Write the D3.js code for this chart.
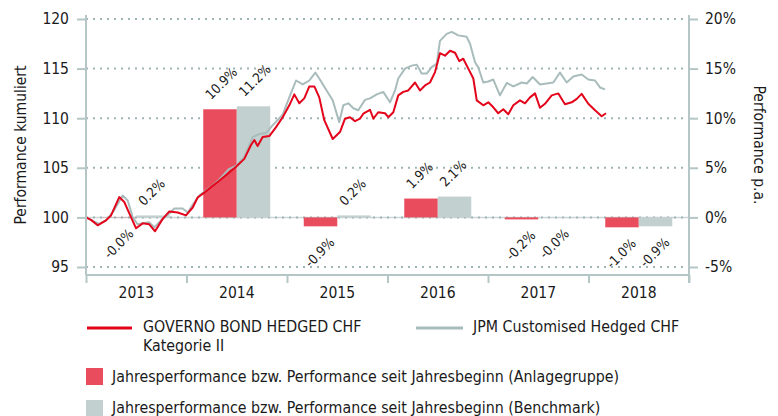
<!DOCTYPE html>
<html>
<head>
<meta charset="utf-8">
<script src="https://cdn.jsdelivr.net/npm/d3@7"></script>
<style>
  body { margin: 0; background: #fff; }
  svg { display: block; }
  text { font-family: 'DejaVu Sans Condensed', 'DejaVu Sans', sans-serif; fill: #1a1a1a; }
</style>
</head>
<body>
<svg width="778" height="416"></svg>
<script>
// year categories and bar values (in %)
var years = ["2013", "2014", "2015", "2016", "2017", "2018"];
var fundYearly = [-0.02, 10.9, -0.9, 1.9, -0.2, -1.0];
var benchYearly = [0.2, 11.2, 0.2, 2.1, -0.03, -0.9];

var leftTicks = [95, 100, 105, 110, 115, 120];
var rightTicks = [-5, 0, 5, 10, 15, 20];

// cumulative performance, [decimal year, value]
var fundSeries = [
  [2013.000, 100.0], [2013.050, 99.75], [2013.116, 99.2], [2013.199, 99.7], [2013.249, 100.2],
  [2013.331, 102.05], [2013.381, 101.55], [2013.431, 100.4], [2013.498, 98.9], [2013.564, 99.4],
  [2013.630, 99.3], [2013.687, 98.6], [2013.763, 99.85], [2013.829, 100.6], [2013.912, 100.5],
  [2013.995, 100.2], [2014.062, 101.0], [2014.111, 102.0], [2014.177, 102.5], [2014.244, 103.05],
  [2014.326, 103.7], [2014.410, 104.4], [2014.493, 105.1], [2014.575, 105.9], [2014.642, 107.3],
  [2014.675, 107.8], [2014.708, 107.2], [2014.758, 108.1], [2014.824, 108.2], [2014.891, 109.1],
  [2014.957, 110.1], [2015.023, 111.3], [2015.073, 112.4], [2015.122, 111.5], [2015.172, 112.0],
  [2015.222, 113.2], [2015.272, 113.2], [2015.321, 112.1], [2015.371, 109.8], [2015.455, 107.9],
  [2015.527, 108.6], [2015.577, 109.95], [2015.627, 110.1], [2015.677, 109.7], [2015.726, 109.95],
  [2015.759, 110.45], [2015.826, 110.85], [2015.859, 109.95], [2015.908, 110.6], [2015.975, 110.5],
  [2016.008, 110.1], [2016.058, 110.6], [2016.107, 112.3], [2016.157, 112.65], [2016.207, 112.8],
  [2016.274, 113.6], [2016.323, 112.8], [2016.373, 113.3], [2016.423, 113.6], [2016.473, 114.65],
  [2016.522, 116.55], [2016.572, 116.3], [2016.622, 116.8], [2016.672, 116.6], [2016.714, 115.75],
  [2016.754, 116.0], [2016.804, 115.0], [2016.854, 114.0], [2016.888, 111.8], [2016.953, 111.3],
  [2017.003, 111.6], [2017.053, 111.1], [2017.102, 110.5], [2017.152, 110.9], [2017.202, 110.4],
  [2017.252, 111.3], [2017.318, 111.8], [2017.368, 111.5], [2017.418, 112.1], [2017.468, 112.5],
  [2017.517, 111.05], [2017.567, 111.45], [2017.634, 112.3], [2017.700, 112.5], [2017.766, 111.4],
  [2017.833, 111.6], [2017.883, 111.95], [2017.932, 112.45], [2017.998, 111.45], [2018.065, 110.8],
  [2018.131, 110.2], [2018.174, 110.5]
];

var benchSeries = [
  [2013.000, 100.0], [2013.067, 99.65], [2013.132, 99.35], [2013.199, 99.7], [2013.266, 100.5],
  [2013.365, 102.2], [2013.415, 101.7], [2013.465, 100.0], [2013.514, 99.3], [2013.564, 99.4],
  [2013.630, 99.5], [2013.680, 99.0], [2013.746, 99.7], [2013.829, 100.4], [2013.879, 100.9],
  [2013.962, 100.9], [2014.012, 100.5], [2014.062, 101.3], [2014.127, 102.2], [2014.244, 103.1],
  [2014.326, 103.8], [2014.426, 104.9], [2014.493, 105.2], [2014.575, 106.1], [2014.659, 108.1],
  [2014.724, 108.4], [2014.791, 108.5], [2014.858, 109.3], [2014.957, 110.35], [2015.023, 112.1],
  [2015.090, 113.8], [2015.157, 113.4], [2015.222, 113.8], [2015.282, 114.6], [2015.321, 114.0],
  [2015.388, 112.9], [2015.455, 111.8], [2015.520, 109.6], [2015.560, 111.3], [2015.610, 111.5],
  [2015.660, 111.0], [2015.709, 110.8], [2015.776, 111.85], [2015.826, 112.0], [2015.893, 112.4],
  [2015.958, 112.65], [2016.025, 111.6], [2016.075, 112.8], [2016.107, 114.0], [2016.174, 115.0],
  [2016.241, 115.3], [2016.291, 115.4], [2016.340, 114.5], [2016.390, 114.5], [2016.440, 115.15],
  [2016.490, 115.5], [2016.522, 117.8], [2016.589, 118.5], [2016.639, 118.7], [2016.704, 118.35],
  [2016.788, 118.2], [2016.821, 117.5], [2016.871, 115.65], [2016.904, 115.1], [2016.953, 113.6],
  [2017.003, 113.7], [2017.053, 113.9], [2017.119, 112.3], [2017.186, 113.55], [2017.252, 113.2],
  [2017.335, 113.6], [2017.386, 113.5], [2017.445, 114.15], [2017.517, 113.4], [2017.584, 113.5],
  [2017.650, 113.6], [2017.716, 114.6], [2017.783, 113.6], [2017.849, 114.2], [2017.932, 114.4],
  [2017.998, 113.9], [2018.065, 113.8], [2018.114, 113.1], [2018.164, 112.9]
];

var fundName = ["GOVERNO BOND HEDGED CHF", "Kategorie II"];
var benchName = "JPM Customised Hedged CHF";
var barNames = [
  "Jahresperformance bzw. Performance seit Jahresbeginn (Anlagegruppe)",
  "Jahresperformance bzw. Performance seit Jahresbeginn (Benchmark)"
];

var red = "#e3051b", redBar = "#e94c5c", grey = "#a9bcbc", greyBar = "#c3d0d0", axisCol = "#b5c6c6";

var svg = d3.select("svg");
var margin = {top: 19, right: 89, bottom: 149, left: 86};
var width = +svg.attr("width") - margin.left - margin.right,
    plotBottom = 267, axisY = 275;

var xTime = d3.scaleLinear().domain([2013, 2019]).range([margin.left, margin.left + width]);
var xBand = d3.scaleBand().domain(years).range([margin.left, margin.left + width]);
var xSub = d3.scaleBand().domain(["fund", "bench"]).range([0, xBand.bandwidth()]).paddingOuter(0.5);
var yScale = d3.scaleLinear().domain([95, 120]).range([plotBottom, margin.top]);
var yPct = d3.scaleLinear().domain([-5, 20]).range([plotBottom, margin.top]);

// grid
svg.append("line")
    .attr("x1", margin.left).attr("x2", margin.left + width)
    .attr("y1", yScale(100)).attr("y2", yScale(100))
    .attr("stroke", "#cdd6d6").attr("stroke-width", 1.5);
svg.append("g").selectAll("line")
    .data(leftTicks)
    .enter().append("line")
    .attr("x1", margin.left).attr("x2", margin.left + width)
    .attr("y1", function (d) { return yScale(d); })
    .attr("y2", function (d) { return yScale(d); })
    .attr("stroke", "#9fb4b4").attr("stroke-width", 2)
    .attr("stroke-dasharray", "2,5");

// bars
var barData = [];
years.forEach(function (y, i) {
    barData.push({year: y, key: "fund", v: fundYearly[i]});
    barData.push({year: y, key: "bench", v: benchYearly[i]});
});
svg.append("g").selectAll("rect")
    .data(barData)
    .enter().append("rect")
    .attr("x", function (d) { return xBand(d.year) + xSub(d.key); })
    .attr("width", xSub.bandwidth())
    .attr("y", function (d) { return yPct(Math.max(0, d.v)); })
    .attr("height", function (d) { return Math.abs(yPct(d.v) - yPct(0)); })
    .attr("fill", function (d) { return d.key == "fund" ? redBar : greyBar; });

// lines
var line = d3.line()
    .x(function (d) { return xTime(d[0]); })
    .y(function (d) { return yScale(d[1]); });
svg.append("path").datum(benchSeries)
    .attr("d", line).attr("fill", "none")
    .attr("stroke", grey).attr("stroke-width", 2).attr("stroke-linejoin", "round");
svg.append("path").datum(fundSeries)
    .attr("d", line).attr("fill", "none")
    .attr("stroke", red).attr("stroke-width", 2).attr("stroke-linejoin", "round");

// bar labels
svg.append("g").selectAll("text")
    .data(barData)
    .enter().append("text")
    .attr("font-size", 13.5)
    .attr("text-anchor", function (d) { return d.v < 0 ? "end" : "start"; })
    .attr("transform", function (d) {
        var cx = xBand(d.year) + xSub(d.key) + xSub.bandwidth() / 2;
        var p = d.v < 0 ? [cx + 15, yPct(d.v) + 17] : [cx - 9, yPct(d.v) - 9];
        return "translate(" + p + ") rotate(-45)";
    })
    .text(function (d) { return d.v.toFixed(1) + "%"; });

// axes
var axisG = svg.append("g");
axisG.append("line")
    .attr("x1", margin.left).attr("x2", margin.left)
    .attr("y1", 15).attr("y2", axisY)
    .attr("stroke", axisCol).attr("stroke-width", 2);
axisG.append("line")
    .attr("x1", margin.left + width).attr("x2", margin.left + width)
    .attr("y1", 15).attr("y2", axisY + 8)
    .attr("stroke", axisCol).attr("stroke-width", 2);
axisG.append("line")
    .attr("x1", margin.left).attr("x2", margin.left + width)
    .attr("y1", axisY).attr("y2", axisY)
    .attr("stroke", axisCol).attr("stroke-width", 2);

var yAxisL = svg.append("g")
    .attr("transform", "translate(" + margin.left + ",0)")
    .call(d3.axisLeft(yScale).tickValues(leftTicks).tickSize(9).tickPadding(8));
var yAxisR = svg.append("g")
    .attr("transform", "translate(" + (margin.left + width) + ",0)")
    .call(d3.axisRight(yPct).tickValues(rightTicks).tickSize(9).tickPadding(7)
        .tickFormat(function (d) { return d + "%"; }));
var xTicks = svg.append("g")
    .attr("transform", "translate(0," + axisY + ")")
    .call(d3.axisBottom(xTime).tickValues(d3.range(2013, 2020)).tickSize(8).tickFormat(""));
var xLabels = svg.append("g")
    .attr("transform", "translate(0," + axisY + ")")
    .call(d3.axisBottom(xBand).tickSize(0).tickPadding(12));

[yAxisL, yAxisR, xTicks, xLabels].forEach(function (a) {
    a.select(".domain").remove();
    a.selectAll("line").attr("stroke", axisCol).attr("stroke-width", 2);
    a.selectAll("text").attr("font-size", 15.5).attr("fill", "#1a1a1a");
    a.attr("font-family", null);
});

// axis titles
svg.append("text")
    .attr("transform", "translate(21," + 145 + ") rotate(-90)")
    .attr("text-anchor", "middle").attr("dominant-baseline", "central")
    .attr("font-size", 15.5)
    .text("Performance kumuliert");
svg.append("text")
    .attr("transform", "translate(759," + 145 + ") rotate(90)")
    .attr("text-anchor", "middle").attr("dominant-baseline", "central")
    .attr("font-size", 15.5)
    .text("Performance p.a.");

// legend
var legend = svg.append("g").attr("font-size", 15.8);
legend.append("line").attr("x1", 87).attr("x2", 132).attr("y1", 328).attr("y2", 328)
    .attr("stroke", red).attr("stroke-width", 3);
legend.append("text").attr("x", 143).attr("y", 332).text(fundName[0]);
legend.append("text").attr("x", 143).attr("y", 351).text(fundName[1]);
legend.append("line").attr("x1", 416).attr("x2", 463).attr("y1", 328).attr("y2", 328)
    .attr("stroke", grey).attr("stroke-width", 3);
legend.append("text").attr("x", 473).attr("y", 332).text(benchName);

legend.append("rect").attr("x", 86).attr("y", 368).attr("width", 17).attr("height", 17).attr("fill", redBar);
legend.append("text").attr("x", 112).attr("y", 382).text(barNames[0]);
legend.append("rect").attr("x", 86).attr("y", 400).attr("width", 17).attr("height", 17).attr("fill", greyBar);
legend.append("text").attr("x", 112).attr("y", 413).text(barNames[1]);
</script>
</body>
</html>
